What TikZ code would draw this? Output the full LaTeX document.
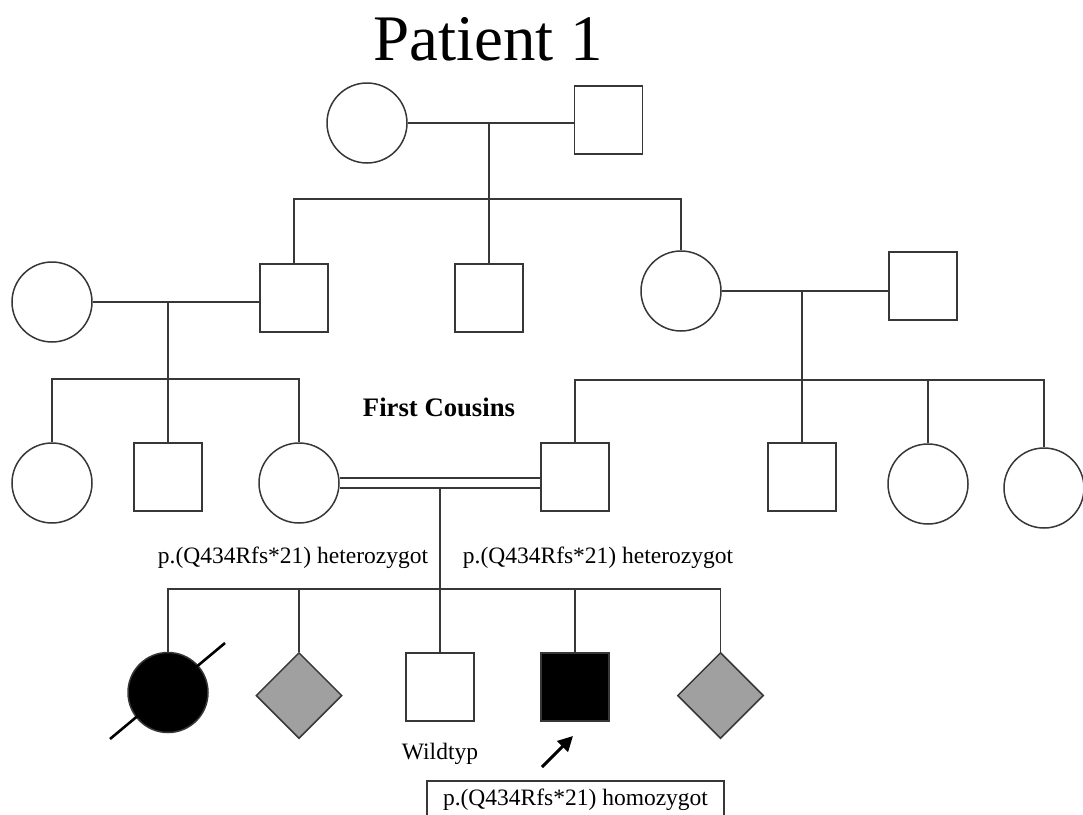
\documentclass[tikz,border=0pt]{standalone}
\usepackage{fontspec}
\setmainfont{Liberation Serif}
\usetikzlibrary{shapes.geometric,arrows.meta}

\definecolor{carrier}{RGB}{160,160,160}
\definecolor{pedline}{RGB}{55,55,55}

\tikzset{
	every picture/.style={line width=1.5pt},
	female/.style={circle, draw=pedline, minimum size=80pt, inner sep=0pt},
	male/.style={rectangle, draw=pedline, minimum width=68pt, minimum height=68pt, inner sep=0pt},
	unknownsex/.style={diamond, draw=pedline, fill=carrier, minimum width=86pt, minimum height=86pt, inner sep=0pt},
	affected/.style={fill=black},
	link/.style={draw=pedline, line join=miter},
	genotype/.style={font=\fontsize{23.5}{26}\selectfont, inner sep=0pt}
}

\begin{document}
\begin{tikzpicture}[x=1pt,y=1pt,yscale=-1,xscale=1]
	\useasboundingbox (0,0) rectangle (1083,814);
	
	% Title
	\node (title) at (488,60) [anchor=base, inner sep=0pt, font=\fontsize{65}{70}\selectfont] {Patient 1};
	
	% Generation I
	\node (g1f) at (367,123) [female] {};
	\node (g1m) at (608.5,120) [male] {};
	\coordinate (u1) at (489,123);
	\coordinate (s1) at (489,199);
	\draw [link] (g1f.east) -- (g1f.east -| g1m.west);
	\draw [link] (u1) -- (s1);
	
	% Generation II
	\node (g2f) at (52,302) [female] {};
	\node (g2a) at (294,298) [male] {};
	\node (g2b) at (489,298) [male] {};
	\node (g2c) at (681,291) [female] {};
	\node (g2m) at (923,286) [male] {};
	\draw [link] (g2a.north) |- (s1) -| (g2c.north);
	\draw [link] (s1) -- (g2b.north);
	% left couple
	\coordinate (u2) at (168,302);
	\coordinate (s2) at (168,379);
	\draw [link] (g2f.east) -- (g2f.east -| g2a.west);
	\draw [link] (u2) -- (s2);
	% right couple
	\coordinate (u3) at (802,291);
	\coordinate (s3) at (802,380);
	\draw [link] (g2c.east) -- (g2c.east -| g2m.west);
	\draw [link] (u3) -- (s3);
	
	% Generation III
	\node (g3a) at (52,483) [female] {};
	\node (g3b) at (168,477) [male] {};
	\node (g3c) at (299,483) [female] {};
	\node (g3d) at (575,477) [male] {};
	\node (g3e) at (802,477) [male] {};
	\node (g3f) at (928,484) [female] {};
	\node (g3g) at (1044,488) [female] {};
	\draw [link] (g3a.north) |- (s2) -| (g3c.north);
	\draw [link] (s2) -- (g3b.north);
	\draw [link] (g3d.north) |- (s3) -| (g3g.north);
	\draw [link] (s3) -- (g3e.north);
	\draw [link] (s3 -| g3f) -- (g3f.north);
	
	% consanguineous couple
	\draw [link, double=white, double distance=8.5pt] (g3c.east) -- (g3c.east -| g3d.west);
	\node (cousins) at (439,407) [font=\bfseries\fontsize{26.7}{30}\selectfont, inner sep=0pt] {First Cousins};
	\coordinate (u4) at (440,487.3);
	\coordinate (s4) at (440,589);
	
	% Generation IV
	\node (g4a) at (168,692.5) [female, affected] {};
	\node (g4b) at (299,695.5) [unknownsex] {};
	\node (g4c) at (440,687) [male] {};
	\node (g4d) at (575,687) [male, affected] {};
	\node (g4e) at (720.5,695.5) [unknownsex] {};
	\draw [link] (u4) -- (g4c.north);
	\draw [link] (g4a.north) |- (s4) -| (g4e.north);
	\draw [link] (s4 -| g4b) -- (g4b.north);
	\draw [link] (s4 -| g4d) -- (g4d.north);
	% deceased
	\draw [line width=2.6pt] ([shift={(-58,46.5)}]g4a.center) -- ([shift={(57,-49.5)}]g4a.center);
	
	% Genotypes
	\node (het1) at (293,558) [genotype] {p.(Q434Rfs*21) heterozygot};
	\node (het2) at (598,558) [genotype] {p.(Q434Rfs*21) heterozygot};
	\node (wt) at (440,754) [genotype] {Wildtyp};
	\node (hom) at (575.5,800) [genotype, draw=pedline, line width=1.2pt, minimum width=297pt, minimum height=38pt] {p.(Q434Rfs*21) homozygot};
	
	% proband
	\coordinate (pa) at (542,767);
	\coordinate (pb) at (573,736);
	\draw [line width=3pt, -{Triangle[length=15pt,width=15pt]}] (pa) -- (pb);
	
\end{tikzpicture}
\end{document}
